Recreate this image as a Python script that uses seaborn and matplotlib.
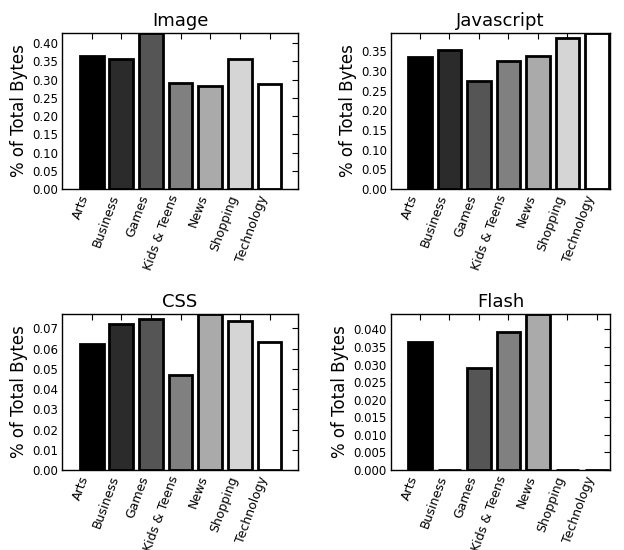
import pandas as pd
import matplotlib
matplotlib.use('Agg')
import matplotlib.pyplot as plt
import matplotlib.ticker as mticker
import seaborn as sns

categories = ['Arts', 'Business', 'Games', 'Kids & Teens', 'News', 'Shopping', 'Technology']

image_vals = [0.364, 0.357, 0.428, 0.291, 0.282, 0.358, 0.288]
js_vals = [0.337, 0.354, 0.274, 0.326, 0.339, 0.385, 0.397]
css_vals = [0.0622, 0.0723, 0.0745, 0.0468, 0.0771, 0.0735, 0.0632]
flash_vals = [0.0363, 0.0001, 0.0291, 0.0393, 0.0444, 0.0001, 0.0001]

panels = [('Image', image_vals), ('Javascript', js_vals), ('CSS', css_vals), ('Flash', flash_vals)]

# grey ramp, black -> white
greys = [str(i / 6) for i in range(7)]

sns.set_theme(style='white')
plt.rcParams['font.family'] = ['DejaVu Sans']
plt.rcParams.update({'text.color': 'black', 'axes.labelcolor': 'black',
                     'xtick.color': 'black', 'ytick.color': 'black'})

fig = plt.figure(figsize=(6.24, 5.5), dpi=100)

# axes boxes in pixels (left, top, right, bottom)
boxes = [(62, 33, 298, 189), (391, 33, 610, 189),
         (62, 314, 298, 470), (391, 314, 610, 470)]
xlims = [(-1.0, 6.96), (-0.98, 6.44), (-1.0, 6.96), (-0.98, 6.44)]
steps = [0.05, 0.05, 0.01, 0.005]
fmts = ['%.2f', '%.2f', '%.2f', '%.3f']

W, H = 624, 550
for i, (title, vals) in enumerate(panels):
    l, t, r, b = boxes[i]
    ax = fig.add_axes([l / W, 1 - b / H, (r - l) / W, (b - t) / H])
    df = pd.DataFrame({'category': categories, 'value': vals})
    sns.barplot(data=df, x='category', y='value', hue='category', palette=greys,
                legend=False, width=0.8, edgecolor='black', linewidth=2,
                saturation=1, ax=ax)
    ax.set_xlim(*xlims[i])
    ax.set_ylim(0, max(vals))
    ax.yaxis.set_major_locator(mticker.MultipleLocator(steps[i]))
    ax.yaxis.set_major_formatter(mticker.FormatStrFormatter(fmts[i]))
    ax.set_title(title, fontsize=13, pad=5, color='black')
    ax.set_xlabel('')
    ax.set_ylabel('% of Total Bytes', fontsize=12, labelpad=3)
    ax.set_xticks(range(len(categories)))
    ax.set_xticklabels(categories, rotation=70, ha='right', fontsize=9)
    ax.tick_params(axis='y', labelsize=8.5)
    ax.tick_params(direction='in', top=True, right=True, length=4, width=0.8,
                   color='black', pad=3)
    for sp in ax.spines.values():
        sp.set_visible(True)
        sp.set_color('black')
        sp.set_linewidth(1.0)

plt.savefig('out.png', dpi=100)
